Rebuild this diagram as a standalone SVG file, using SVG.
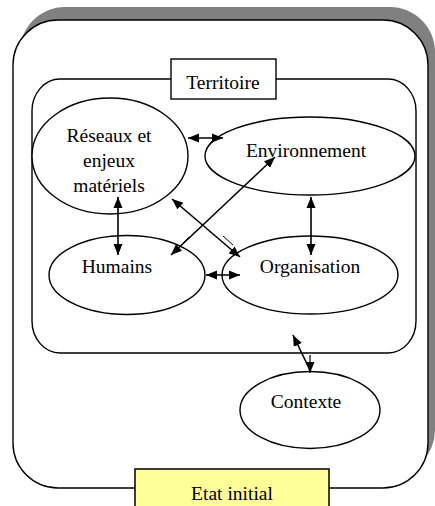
<svg xmlns="http://www.w3.org/2000/svg" width="435" height="506" viewBox="0 0 435 506">
<defs>
<style>
.ln{fill:none;stroke:#000;stroke-width:1.4}
.sh{fill:#fff;stroke:#000;stroke-width:1.4}
.t{font-family:"Liberation Serif","Times New Roman",serif;font-size:19.5px;fill:#000;text-anchor:middle}
.ar{fill:none;stroke:#000;stroke-width:1.6;marker-start:url(#ah);marker-end:url(#ah)}
.tk{fill:none;stroke:#000;stroke-width:1}
</style>
<marker id="ah" markerUnits="userSpaceOnUse" markerWidth="12" markerHeight="10" refX="11" refY="4.5" orient="auto-start-reverse" viewBox="0 0 12 9">
<path d="M0,0 L11,4.5 L0,9 z" fill="#000"/>
</marker>
</defs>
<rect width="435" height="506" fill="#fff"/>
<g id="etat">
<rect x="20" y="7" width="415" height="468" rx="45" ry="45" fill="#808080"/>
<rect x="13" y="20" width="415" height="468" rx="45" ry="45" class="sh"/>
</g>
<g id="territoire">
<rect x="32" y="79" width="384" height="274" rx="28" ry="32" class="sh"/>
</g>
<g id="territoire-label">
<rect x="171" y="59" width="105" height="40" class="sh"/>
<text x="223" y="89" class="t" font-size="20">Territoire</text>
</g>
<g id="reseaux">
<ellipse cx="110" cy="156" rx="78" ry="58" class="sh"/>
<text class="t"><tspan x="109" y="142">Réseaux et</tspan><tspan x="109" y="167">enjeux</tspan><tspan x="109" y="192">matériels</tspan></text>
</g>
<g id="environnement">
<ellipse cx="310" cy="156" rx="105" ry="39" class="sh"/>
<text x="306" y="157" class="t">Environnement</text>
</g>
<g id="humains">
<ellipse cx="127" cy="275" rx="78" ry="39.5" class="sh"/>
<text x="117" y="273" class="t">Humains</text>
</g>
<g id="organisation">
<ellipse cx="310" cy="275" rx="88" ry="39" class="sh"/>
<text x="310" y="273" class="t">Organisation</text>
</g>
<g id="contexte">
<ellipse cx="310" cy="410" rx="70" ry="38.5" class="sh"/>
<text x="306" y="408" class="t">Contexte</text>
</g>
<g id="connectors">
<line x1="188" y1="138" x2="223" y2="138" class="ar"/>
<line x1="118" y1="197" x2="118" y2="255" class="ar"/>
<line x1="171" y1="255" x2="275" y2="157" class="ar"/>
<line x1="172" y1="199" x2="240" y2="257" class="ar"/>
<line x1="206" y1="275" x2="240" y2="275" class="ar"/>
<line x1="311" y1="197" x2="311" y2="255" class="ar"/>
<path d="M293,335 L308,366" class="ln" style="stroke-width:1.6;marker-start:url(#ah)"/>
<path d="M310,355 L310,373" class="ln" style="stroke-width:1.2;marker-end:url(#ah)"/>
<line x1="183" y1="243" x2="189" y2="237" class="tk"/>
<line x1="223" y1="236" x2="233" y2="245" class="tk"/>
</g>
<g id="etat-label">
<rect x="135" y="469" width="194" height="45" fill="#ffff99" stroke="#000" stroke-width="1.5"/>
<text x="232" y="500" class="t" font-size="20">Etat initial</text>
</g>
</svg>
